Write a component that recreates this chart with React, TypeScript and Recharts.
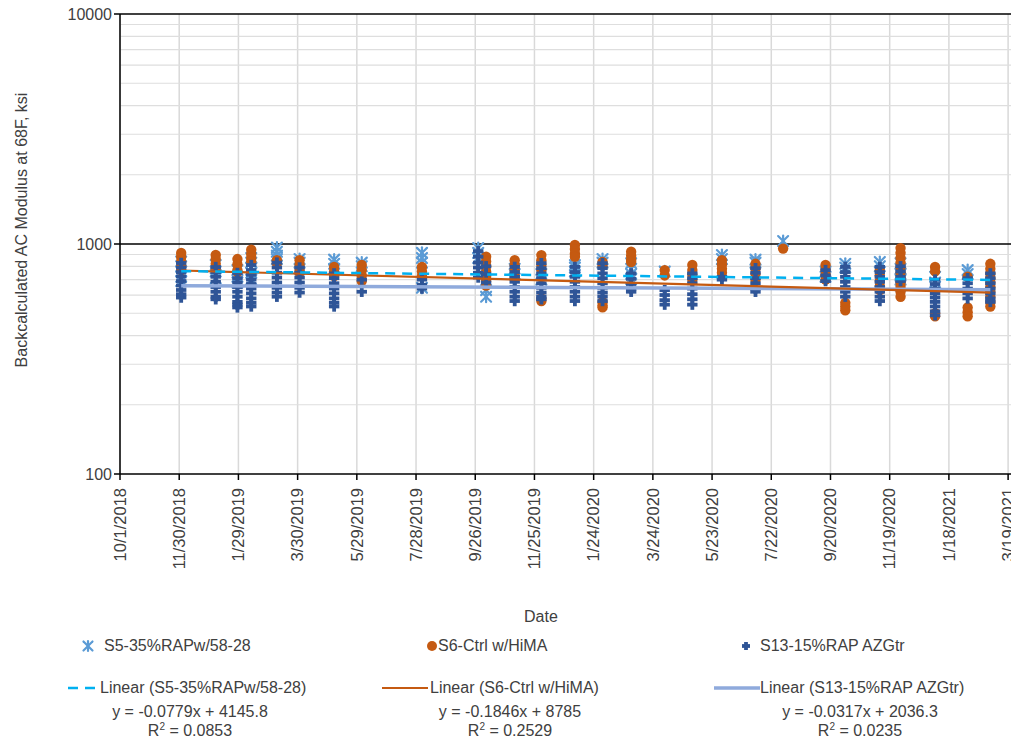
import React from "react";
import {
  ScatterChart,
  Scatter,
  XAxis,
  YAxis,
  CartesianGrid,
} from "recharts";

// Excel date serials for x ticks (every 60 days)
const xTicks = [
  43374, 43434, 43494, 43554, 43614, 43674, 43734, 43794, 43854, 43914,
  43974, 44034, 44094, 44154, 44214, 44274,
];
const yTicks = [100, 1000, 10000];
const yMinorTicks = [200, 300, 400, 500, 600, 700, 800, 900, 2000, 3000, 4000, 5000, 6000, 7000, 8000, 9000];
const yMajorLines = [1000, 10000];

// [date serial, values (ksi)]
const s5Cols: [number, number[]][] = [
  [43436, [840, 800, 760, 720, 690]],
  [43471, [810, 760, 710]],
  [43493, [770, 720, 680]],
  [43507, [870, 830, 790, 750, 700]],
  [43533, [965, 925, 890, 860]],
  [43556, [860, 830]],
  [43591, [855, 820, 780]],
  [43619, [830, 800]],
  [43680, [915, 870, 830, 645]],
  [43737, [960, 915, 870]],
  [43745, [630, 590]],
  [43774, [780, 740]],
  [43801, [740, 700]],
  [43835, [810, 790, 760]],
  [43863, [860, 830]],
  [43892, [825, 780, 740, 705]],
  [43926, [760]],
  [43984, [895, 860]],
  [44018, [855, 830]],
  [44046, [1030]],
  [44089, [760, 720]],
  [44109, [820, 790]],
  [44144, [835, 800]],
  [44165, [825, 780, 740, 700, 660]],
  [44200, [720, 680]],
  [44233, [770, 740]],
];

const s6Cols: [number, number[]][] = [
  [43436, [914, 878, 840, 802, 771]],
  [43471, [896, 860, 820, 780]],
  [43493, [860, 815, 770, 755]],
  [43507, [945, 905, 870, 840]],
  [43533, [850, 825]],
  [43556, [850, 810, 770, 750]],
  [43591, [795, 760, 725]],
  [43619, [810, 770, 730, 690]],
  [43680, [795, 760, 725]],
  [43745, [880, 840, 800, 760, 720, 690, 660]],
  [43774, [850, 810, 770, 725]],
  [43801, [895, 850, 810, 770, 580, 565]],
  [43835, [990, 950, 910, 880]],
  [43863, [835, 805, 560, 540, 530]],
  [43892, [925, 890, 855, 835]],
  [43926, [770, 730]],
  [43954, [810, 770, 735, 700]],
  [43984, [850, 815, 780, 750]],
  [44018, [820, 780, 740, 700]],
  [44046, [955]],
  [44089, [810, 770, 735, 700]],
  [44109, [555, 535, 515]],
  [44144, [770, 730, 690, 655, 630]],
  [44165, [960, 915, 870, 830, 790, 750, 715, 680, 650, 620, 590]],
  [44200, [795, 760, 500, 485]],
  [44233, [720, 530, 505, 485]],
  [44256, [820, 780, 745, 710, 680, 650, 620, 590, 560, 535]],
];

const s13Cols: [number, number[]][] = [
  [43436, [827, 790, 755, 722, 690, 660, 631, 605, 585]],
  [43471, [794, 755, 720, 685, 650, 620, 590, 575]],
  [43493, [748, 711, 680, 650, 620, 590, 560, 545, 530]],
  [43507, [810, 770, 735, 700, 670, 640, 610, 580, 555, 535]],
  [43533, [830, 790, 750, 715, 680, 645, 615, 590]],
  [43556, [790, 750, 715, 680, 645, 615]],
  [43591, [745, 710, 675, 640, 610, 580, 555, 535]],
  [43619, [700, 620]],
  [43680, [700, 665, 640]],
  [43737, [930, 880, 830, 790, 750, 715]],
  [43745, [800, 740, 680]],
  [43774, [795, 755, 720, 685, 650, 620, 590, 565]],
  [43801, [825, 785, 745, 710, 675, 645, 615, 590, 575]],
  [43835, [795, 755, 720, 685, 650, 620, 590, 565]],
  [43863, [825, 785, 745, 710, 675, 645, 615, 590, 565]],
  [43892, [745, 705, 670, 640, 620]],
  [43926, [630, 600, 570, 545]],
  [43954, [745, 710, 675, 640, 605, 575, 545]],
  [43984, [720, 700]],
  [44018, [785, 750, 710, 675, 640, 620]],
  [44089, [770, 730, 690]],
  [44109, [795, 755, 720, 685, 650, 620, 590]],
  [44144, [795, 755, 720, 685, 650, 620, 590, 565]],
  [44165, [800, 760, 720, 690]],
  [44200, [700, 670, 640, 610, 585, 560, 535, 510, 490]],
  [44233, [710, 675, 640, 610, 580]],
  [44256, [745, 710, 675, 640, 610, 580, 560]],
];

// Trend line end points (from the fitted equations shown)
const trendS5 = [
  { x: 43436, y: 762 },
  { x: 44256, y: 698 },
];
const trendS6 = [
  { x: 43436, y: 767 },
  { x: 44256, y: 615 },
];
const trendS13 = [
  { x: 43436, y: 659 },
  { x: 44256, y: 633 },
];

const seriesNames = ["S5-35%RAPw/58-28", "S6-Ctrl w/HiMA", "S13-15%RAP AZGtr"];
const trendNames = [
  "Linear (S5-35%RAPw/58-28)",
  "Linear (S6-Ctrl w/HiMA)",
  "Linear (S13-15%RAP AZGtr)",
];
const equations = ["y = -0.0779x + 4145.8", "y = -0.1846x + 8785", "y = -0.0317x + 2036.3"];
const rSquared = ["0.0853", "0.2529", "0.0235"];

const toPoints = (cols: [number, number[]][]) =>
  cols.flatMap(([d, vs]) => vs.map((v) => ({ x: d, y: v })));

const C_S5 = "#5B9BD5";
const C_S6 = "#C55A11";
const C_S13 = "#2F5597";
const C_T5 = "#00B0F0";
const C_T13 = "#8FAADC";
const FONT = "'Liberation Sans', Arial, sans-serif";
const TXT = "#404040";

const fmtDate = (s: number) => {
  const d = new Date(Date.UTC(1899, 11, 30) + s * 86400000);
  return `${d.getUTCMonth() + 1}/${d.getUTCDate()}/${d.getUTCFullYear()}`;
};

const StarIcon = ({ cx, cy, r = 5 }: any) => (
  <g stroke={C_S5} strokeWidth={2.2} strokeLinecap="round">
    <line x1={cx - r} y1={cy - r} x2={cx + r} y2={cy + r} />
    <line x1={cx - r} y1={cy + r} x2={cx + r} y2={cy - r} />
    <line x1={cx} y1={cy - r - 0.5} x2={cx} y2={cy + r + 0.5} />
  </g>
);
const DotIcon = ({ cx, cy, r = 5.2 }: any) => <circle cx={cx} cy={cy} r={r} fill={C_S6} />;
const PlusIcon = ({ cx, cy, r = 5.2 }: any) => (
  <g stroke={C_S13} strokeWidth={3.8}>
    <line x1={cx - r} y1={cy} x2={cx + r} y2={cy} />
    <line x1={cx} y1={cy - r} x2={cx} y2={cy + r} />
  </g>
);
const NoShape = () => <g />;

const XTick = ({ x, y, payload }: any) => (
  <g transform={`translate(${x},${y + 6})`}>
    <text
      transform="rotate(-90)"
      textAnchor="end"
      dy="0.35em"
      fontSize={16.5}
      fontFamily={FONT}
      fill={TXT}
    >
      {fmtDate(payload.value)}
    </text>
  </g>
);

const YLabel = () => (
  <text
    transform="translate(21,230) rotate(-90)"
    textAnchor="middle"
    dy="0.35em"
    fontSize={16}
    fontFamily={FONT}
    fill={TXT}
  >
    Backcalculated AC Modulus at 68F, ksi
  </text>
);

const textStyle: React.CSSProperties = {
  position: "absolute",
  fontFamily: FONT,
  fontSize: 16,
  color: TXT,
  whiteSpace: "nowrap",
  lineHeight: "18px",
};

export default function App() {
  const s5 = toPoints(s5Cols);
  const s6 = toPoints(s6Cols);
  const s13 = toPoints(s13Cols);
  return (
    <div style={{ position: "relative", width: 1011, height: 728, background: "#fff" }}>
      <div style={{ position: "absolute", left: -8, top: -8 }}>
        <ScatterChart
          width={1019}
          height={736}
          margin={{ top: 14, right: 3, bottom: 112, left: 0 }}
          style={{ overflow: "visible" }}
        >
          <CartesianGrid horizontal={false} stroke="#d9d9d9" strokeWidth={1.5} />
          <CartesianGrid
            vertical={false}
            horizontalValues={yMinorTicks}
            stroke="#dedede"
            strokeWidth={1.2}
          />
          <CartesianGrid
            vertical={false}
            horizontalValues={yMajorLines}
            stroke="#000"
            strokeWidth={1.5}
          />
          <XAxis
            type="number"
            dataKey="x"
            domain={[43374, 44282]}
            ticks={xTicks}
            interval={0}
            tick={<XTick />}
            height={150}
            tickSize={6}
            stroke="#000"
            strokeWidth={1.5}
            allowDataOverflow
          />
          <YAxis
            type="number"
            dataKey="y"
            scale="log"
            domain={[100, 10000]}
            ticks={yTicks}
            interval={0}
            width={120}
            tickSize={6}
            stroke="#000"
            strokeWidth={1.5}
            tick={{ fontSize: 16, fontFamily: FONT, fill: TXT }}
            allowDataOverflow
            label={<YLabel />}
          />
          <Scatter data={s5} shape={(p: any) => <StarIcon cx={p.cx} cy={p.cy} />} isAnimationActive={false} />
          <Scatter data={s6} shape={(p: any) => <DotIcon cx={p.cx} cy={p.cy} />} isAnimationActive={false} />
          <Scatter data={s13} shape={(p: any) => <PlusIcon cx={p.cx} cy={p.cy} />} isAnimationActive={false} />
          <Scatter
            data={trendS13}
            line={{ stroke: C_T13, strokeWidth: 3.5 }}
            shape={NoShape}
            isAnimationActive={false}
          />
          <Scatter
            data={trendS6}
            line={{ stroke: C_S6, strokeWidth: 2.2 }}
            shape={NoShape}
            isAnimationActive={false}
          />
          <Scatter
            data={trendS5}
            line={{ stroke: C_T5, strokeWidth: 2.5, strokeDasharray: "10 7" }}
            shape={NoShape}
            isAnimationActive={false}
          />
        </ScatterChart>
      </div>

      <div style={{ ...textStyle, left: 516, top: 600 }}>Date</div>

      {/* Legend row 1 */}
      <svg style={{ position: "absolute", left: 70, top: 628 }} width={20} height={20}>
        <StarIcon cx={10} cy={10} r={4.5} />
      </svg>
      <div style={{ ...textStyle, left: 96, top: 629 }}>{seriesNames[0]}</div>
      <svg style={{ position: "absolute", left: 414, top: 628 }} width={20} height={20}>
        <DotIcon cx={10} cy={10} r={5} />
      </svg>
      <div style={{ ...textStyle, left: 430, top: 629 }}>{seriesNames[1]}</div>
      <svg style={{ position: "absolute", left: 728, top: 628 }} width={20} height={20}>
        <PlusIcon cx={10} cy={10} r={4} />
      </svg>
      <div style={{ ...textStyle, left: 752, top: 629 }}>{seriesNames[2]}</div>

      {/* Legend row 2 */}
      <svg style={{ position: "absolute", left: 58, top: 670 }} width={34} height={20}>
        <line x1={2} y1={10} x2={32} y2={10} stroke={C_T5} strokeWidth={2.5} strokeDasharray="10 7" />
      </svg>
      <div style={{ ...textStyle, left: 92, top: 671 }}>{trendNames[0]}</div>
      <svg style={{ position: "absolute", left: 372, top: 670 }} width={50} height={20}>
        <line x1={2} y1={10} x2={48} y2={10} stroke={C_S6} strokeWidth={2.2} />
      </svg>
      <div style={{ ...textStyle, left: 422, top: 671 }}>{trendNames[1]}</div>
      <svg style={{ position: "absolute", left: 704, top: 670 }} width={50} height={20}>
        <line x1={2} y1={10} x2={48} y2={10} stroke={C_T13} strokeWidth={3.5} />
      </svg>
      <div style={{ ...textStyle, left: 752, top: 671 }}>{trendNames[2]}</div>

      {/* Equations */}
      {[182, 502, 852].map((cx, i) => (
        <React.Fragment key={i}>
          <div style={{ ...textStyle, left: cx - 150, width: 300, textAlign: "center", top: 695 }}>
            {equations[i]}
          </div>
          <div style={{ ...textStyle, left: cx - 150, width: 300, textAlign: "center", top: 714 }}>
            R<sup style={{ fontSize: 10, lineHeight: 0 }}>2</sup> = {rSquared[i]}
          </div>
        </React.Fragment>
      ))}
    </div>
  );
}
